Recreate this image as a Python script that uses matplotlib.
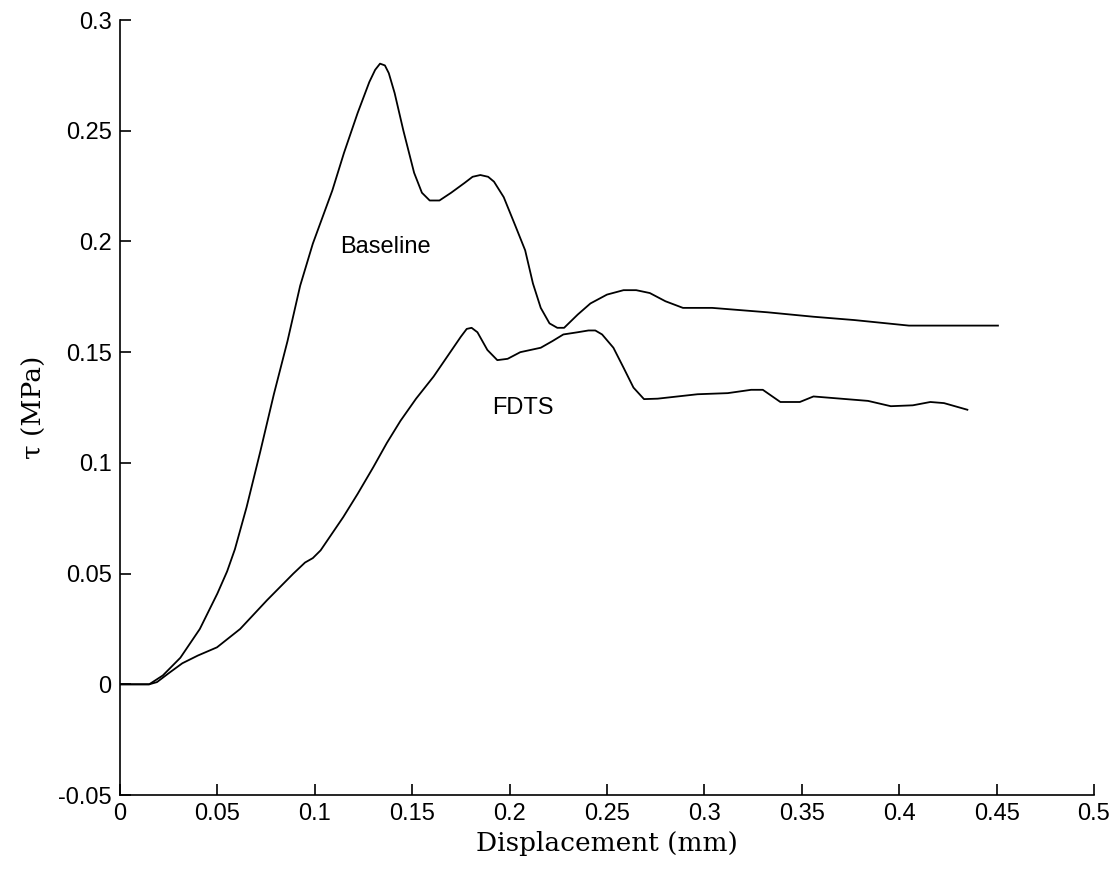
import numpy as np
import matplotlib.pyplot as plt

# shear stress vs displacement
base_x = [0, 0.015, 0.022, 0.031, 0.041, 0.050, 0.055, 0.059, 0.065, 0.072,
          0.079, 0.086, 0.0925, 0.099, 0.109, 0.115, 0.122, 0.128, 0.131, 0.1335,
          0.136, 0.138, 0.141, 0.1455, 0.151, 0.155, 0.159, 0.164, 0.170, 0.177,
          0.181, 0.185, 0.189, 0.192, 0.197, 0.203, 0.208, 0.212, 0.216, 0.2205,
          0.2245, 0.228, 0.235, 0.2415, 0.250, 0.2585, 0.265, 0.272, 0.280, 0.289,
          0.304, 0.3325, 0.356, 0.377, 0.405, 0.4507]
base_y = [0, 0, 0.004, 0.012, 0.025, 0.041, 0.051, 0.061, 0.080, 0.105,
          0.131, 0.155, 0.180, 0.199, 0.223, 0.240, 0.258, 0.272, 0.2775, 0.2803,
          0.2795, 0.276, 0.267, 0.250, 0.231, 0.222, 0.2185, 0.2185, 0.222, 0.2265,
          0.2292, 0.2300, 0.2292, 0.227, 0.220, 0.207, 0.196, 0.181, 0.170, 0.163,
          0.161, 0.161, 0.167, 0.172, 0.176, 0.178, 0.178, 0.1767, 0.173, 0.170,
          0.170, 0.168, 0.166, 0.1645, 0.162, 0.162]

fdts_x = [0, 0.015, 0.019, 0.025, 0.032, 0.040, 0.0498, 0.0617, 0.0755, 0.089,
          0.095, 0.099, 0.103, 0.1146, 0.122, 0.130, 0.137, 0.144, 0.152, 0.161,
          0.168, 0.175, 0.178, 0.1805, 0.1835, 0.1886, 0.1937, 0.199, 0.2055, 0.216,
          0.222, 0.2276, 0.235, 0.2405, 0.244, 0.2475, 0.2533, 0.2585, 0.2636, 0.269,
          0.276, 0.2965, 0.312, 0.324, 0.330, 0.339, 0.349, 0.356, 0.370, 0.384,
          0.3957, 0.407, 0.416, 0.423, 0.435]
fdts_y = [0, 0, 0.001, 0.005, 0.0095, 0.013, 0.0167, 0.025, 0.038, 0.050,
          0.055, 0.057, 0.0605, 0.0755, 0.086, 0.098, 0.109, 0.119, 0.129, 0.139,
          0.148, 0.157, 0.1605, 0.161, 0.159, 0.151, 0.1464, 0.147, 0.150, 0.152,
          0.155, 0.158, 0.159, 0.1598, 0.1598, 0.158, 0.152, 0.143, 0.134, 0.1288,
          0.129, 0.131, 0.1315, 0.133, 0.133, 0.1275, 0.1275, 0.130, 0.129, 0.128,
          0.1256, 0.126, 0.1275, 0.127, 0.124]

x_ticks = [0, 0.05, 0.1, 0.15, 0.2, 0.25, 0.3, 0.35, 0.4, 0.45, 0.5]
y_ticks = [-0.05, 0, 0.05, 0.1, 0.15, 0.2, 0.25, 0.3]

fig = plt.figure(figsize=(11.17, 8.82), dpi=100)
ax = fig.add_axes([0.1074, 0.0986, 0.8720, 0.8787])

ax.plot(base_x, base_y, color='black', lw=1.3)
ax.plot(fdts_x, fdts_y, color='black', lw=1.3)

ax.text(0.113, 0.1975, 'Baseline', family='Liberation Sans', fontsize=17, va='center')
ax.text(0.191, 0.1247, 'FDTS', family='Liberation Sans', fontsize=17, va='center')

ax.set_xlim(0, 0.5)
ax.set_ylim(-0.05, 0.3)
ax.set_xticks(x_ticks)
ax.set_yticks(y_ticks)
ax.set_xticklabels([('%g' % v) for v in x_ticks], family='Liberation Sans', fontsize=17)
ax.set_yticklabels([('%g' % v) for v in y_ticks], family='Liberation Sans', fontsize=17)
ax.tick_params(direction='in', length=8, width=1.2, pad=6)

for s in ['top', 'right']:
    ax.spines[s].set_visible(False)
for s in ['left', 'bottom']:
    ax.spines[s].set_linewidth(1.2)

ax.set_xlabel('Displacement (mm)', family='DejaVu Serif', fontsize=19, labelpad=4)
ax.set_ylabel('\u03c4 (MPa)', family='DejaVu Serif', fontsize=19, labelpad=8)

fig.savefig('out.png', dpi=100)
